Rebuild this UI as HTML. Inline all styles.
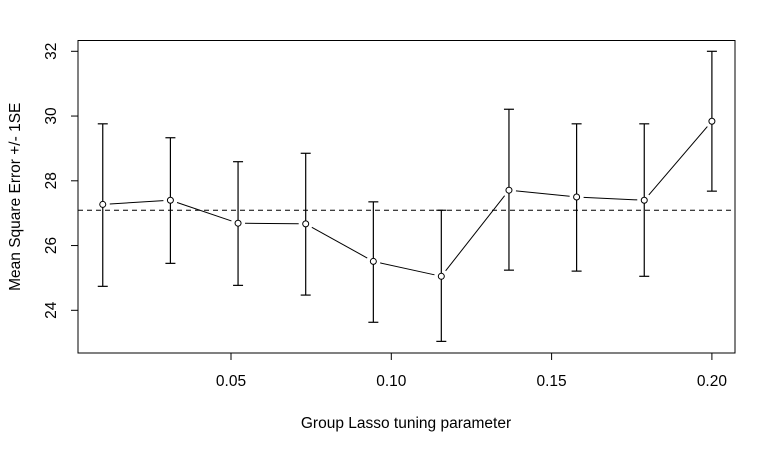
<!DOCTYPE html>
<html><head><meta charset="utf-8"><style>
body{margin:0;background:#fff}
svg text{font-family:"Liberation Sans",Arial,sans-serif;font-size:15.5px;fill:#000}
</style></head><body>
<svg id="chart" width="776" height="451" xmlns="http://www.w3.org/2000/svg"></svg>
<script>
const lambdas=[0.01,0.0311,0.0522,0.0733,0.0944,0.1156,0.1367,0.1578,0.1789,0.2];
const means=[27.27,27.40,26.69,26.67,25.51,25.05,27.71,27.50,27.40,29.84];
const uppers=[29.76,29.33,28.59,28.85,27.35,27.09,30.21,29.76,29.76,32.0];
const lowers=[24.74,25.45,24.77,24.47,23.63,23.04,25.24,25.21,25.05,27.68];
const refLine=27.09;
const xTicks=[0.05,0.10,0.15,0.20];
const xTickLabels=["0.05","0.10","0.15","0.20"];
const yTicks=[24,26,28,30,32];

const NS="http://www.w3.org/2000/svg";
const svg=document.getElementById('chart');
const L=78,R=735,T=40.5,B=353;
const xs=v=>231+(v-0.05)*3206;
const ys=v=>51.3+(32-v)*32.375;
function mk(tag,at,parent){const e=document.createElementNS(NS,tag);for(const k in at)e.setAttribute(k,at[k]);(parent||svg).appendChild(e);return e;}

const box=mk('rect',{x:L,y:T,width:R-L,height:B-T,fill:'none',stroke:'#000','stroke-width':1});



const xa=mk('g',{});


xTicks.forEach((t,i)=>{
  mk('line',{x1:xs(t),x2:xs(t),y1:B,y2:B+7,stroke:'#000'},xa);
  const tx=mk('text',{x:xs(t),y:B+33,'text-anchor':'middle'},xa);tx.textContent=xTickLabels[i];
  
  
});
mk('line',{x1:xs(xTicks[0]),x2:xs(xTicks[xTicks.length-1]),y1:B,y2:B,stroke:'#000'},xa);

const ya=mk('g',{});


yTicks.forEach(t=>{
  mk('line',{x1:L,x2:L-7,y1:ys(t),y2:ys(t),stroke:'#000'},ya);
  const tx=mk('text',{x:0,y:0,'text-anchor':'middle',transform:`translate(56,${ys(t)}) rotate(-90)`},ya);tx.textContent=String(t);
  
  
});
mk('line',{x1:L,x2:L,y1:ys(yTicks[0]),y2:ys(yTicks[yTicks.length-1]),stroke:'#000'},ya);

const xt=mk('text',{x:406,y:428,'text-anchor':'middle'});xt.textContent='Group Lasso tuning parameter';


const yt=mk('text',{x:0,y:0,'text-anchor':'middle',transform:`translate(20,${(T+B)/2}) rotate(-90)`});yt.textContent='Mean Square Error +/- 1SE';



const ref=mk('line',{x1:L,x2:R,y1:ys(refLine),y2:ys(refLine),stroke:'#000','stroke-dasharray':'5,4'});



for(let i=0;i<lambdas.length-1;i++){
  const x1=xs(lambdas[i]),y1=ys(means[i]),x2=xs(lambdas[i+1]),y2=ys(means[i+1]);
  const d=Math.hypot(x2-x1,y2-y1),g=7;
  if(d<=2*g)continue;
  const ux=(x2-x1)/d,uy=(y2-y1)/d;
  const seg=mk('line',{x1:x1+ux*g,y1:y1+uy*g,x2:x2-ux*g,y2:y2-uy*g,stroke:'#000'});
  
  
}
lambdas.forEach((l,i)=>{
  const x=xs(l);
  const g=mk('g',{});
  
  
  mk('line',{x1:x,x2:x,y1:ys(uppers[i]),y2:ys(lowers[i]),stroke:'#000','stroke-width':1.2},g);
  mk('line',{x1:x-5,x2:x+5,y1:ys(uppers[i]),y2:ys(uppers[i]),stroke:'#000','stroke-width':1.2},g);
  mk('line',{x1:x-5,x2:x+5,y1:ys(lowers[i]),y2:ys(lowers[i]),stroke:'#000','stroke-width':1.2},g);
  const c=mk('circle',{cx:x,cy:ys(means[i]),r:3,fill:'#fff',stroke:'#000'});
  
  
});
</script>
</body></html>
